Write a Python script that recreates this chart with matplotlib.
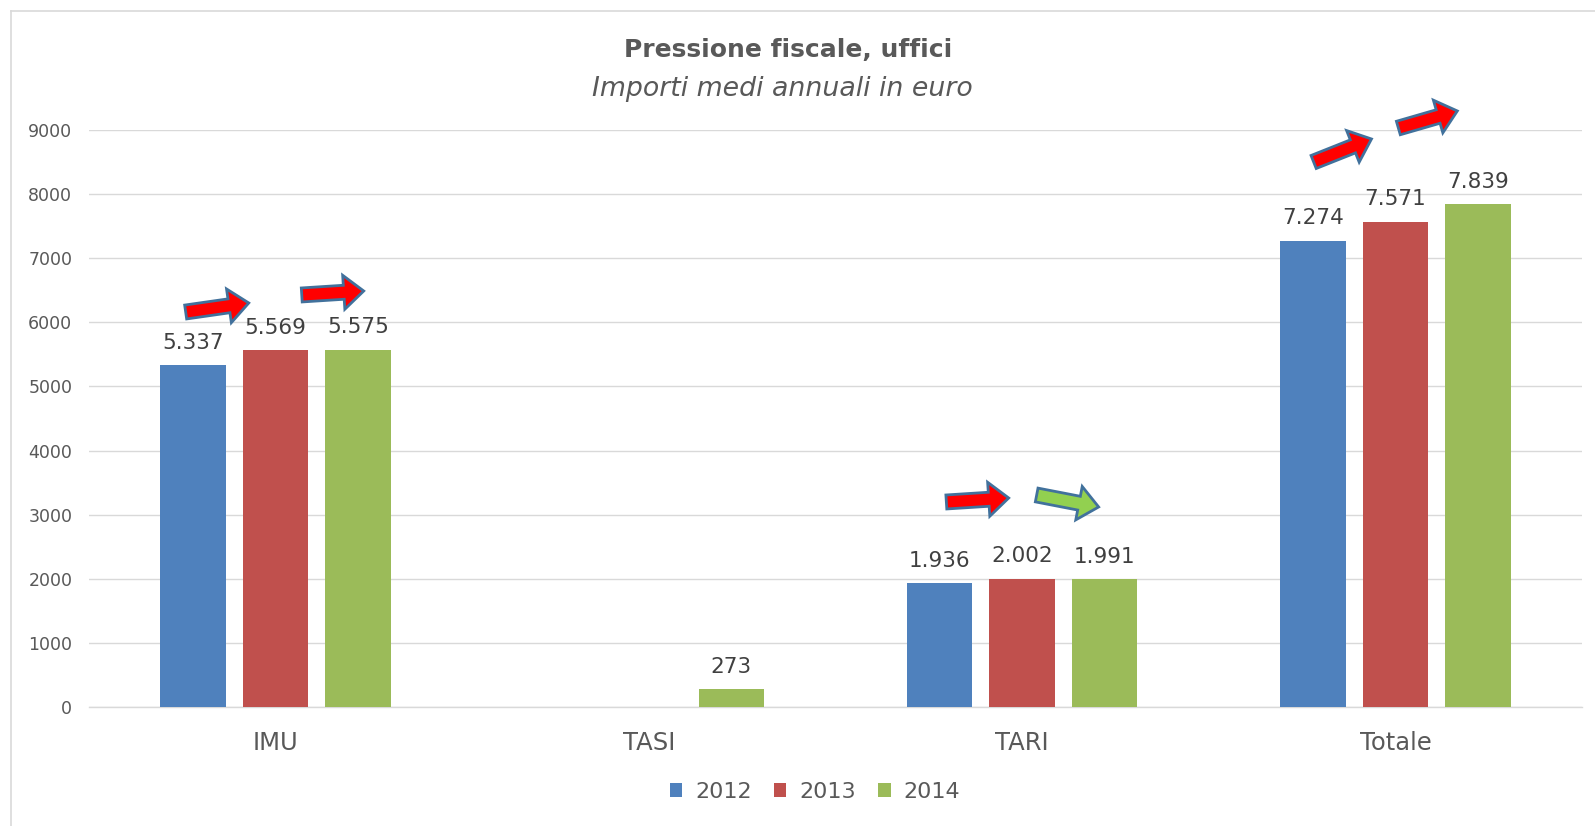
import numpy as np
import matplotlib
matplotlib.use("Agg")
import matplotlib.pyplot as plt
from matplotlib.patches import FancyArrow, Patch
from matplotlib.lines import Line2D
from matplotlib.transforms import IdentityTransform

plt.rcParams['font.family'] = ['DejaVu Sans']

# ---- data ----
categories = ["IMU", "TASI", "TARI", "Totale"]
years = ["2012", "2013", "2014"]
v2012 = [5337, np.nan, 1936, 7274]
v2013 = [5569, np.nan, 2002, 7571]
v2014 = [5575, 273, 1991, 7839]
yticks = [0, 1000, 2000, 3000, 4000, 5000, 6000, 7000, 8000, 9000]
colors = ["#4f81bd", "#c0504d", "#9bbb59"]

# decorative block arrows (tail_x, tail_y, tip_x, tip_y) in data coords, fill colour
arrows = [
    (-0.241, 6161, -0.072, 6302, "#ff0000"),
    (0.070, 6427, 0.236, 6489, "#ff0000"),
    (1.797, 3198, 1.964, 3260, "#ff0000"),
    (2.039, 3307, 2.205, 3120, "#92d050"),
    (2.781, 8501, 2.936, 8860, "#ff0000"),
    (3.008, 9031, 3.166, 9297, "#ff0000"),
]

W, H = 1595, 826
fig = plt.figure(figsize=(W / 100, H / 100), dpi=100)
ax = fig.add_axes([89 / W, (H - 707) / H, (1582 - 89) / W, (707 - 130) / H])

series = [v2012, v2013, v2014]
x = np.arange(len(categories))
offsets = [-0.221, 0.0, 0.221]
bw = 0.176
for vals, off, col, yr in zip(series, offsets, colors, years):
    ax.bar(x + off, vals, width=bw, color=col, label=yr, zorder=3)
    for xi, v in zip(x, vals):
        if np.isnan(v):
            continue
        lbl = f"{v/1000:.3f}" if v >= 1000 else f"{int(v)}"
        ax.annotate(lbl, (xi + off, v), xytext=(0, 16), textcoords="offset points",
                    ha="center", va="center", fontsize=15.5, color="#404040", zorder=4)

ax.set_xlim(-0.5, len(categories) - 0.5)
ax.set_ylim(0, 9000)
ax.set_yticks(yticks)
ax.set_yticklabels([str(t) for t in yticks])
ax.set_xticks(x)
ax.set_xticklabels(categories)
ax.tick_params(axis="y", length=0, pad=12, labelsize=12.5, labelcolor="#595959")
ax.tick_params(axis="x", length=0, pad=17, labelsize=17.5, labelcolor="#595959")
ax.grid(axis="y", color="#d9d9d9", linewidth=1, zorder=0)
for s in ["top", "right", "left"]:
    ax.spines[s].set_visible(False)
ax.spines["bottom"].set_color("#d9d9d9")
ax.spines["bottom"].set_linewidth(1)

# block arrows drawn in pixel space anchored to data coordinates
for tx, ty, hx, hy, col in arrows:
    (px0, py0), (px1, py1) = ax.transData.transform([(tx, ty), (hx, hy)])
    arr = FancyArrow(px0, py0, px1 - px0, py1 - py0, width=14, head_width=34,
                     head_length=20, length_includes_head=True,
                     facecolor=col, edgecolor="#41719c", linewidth=2,
                     transform=IdentityTransform(), zorder=5)
    fig.add_artist(arr)

# titles
fig.text(788 / W, 1 - 50 / H, "Pressione fiscale, uffici", ha="center", va="center",
         fontsize=18, fontweight="bold", color="#595959")
fig.text(782 / W, 1 - 89.5 / H, "Importi medi annuali in euro", ha="center", va="center",
         fontsize=19.3, fontstyle="italic", color="#595959")

# legend
handles = [Patch(facecolor=c, edgecolor="none") for c in colors]
leg = fig.legend(handles, years, loc="center", bbox_to_anchor=(815 / W, 1 - 792 / H),
                 ncol=3, frameon=False, fontsize=16, handlelength=0.55, handleheight=0.55,
                 handletextpad=0.6, columnspacing=1.0)
for t in leg.get_texts():
    t.set_color("#595959")

# chart border
fig.add_artist(Line2D([10.5 / W, 10.5 / W], [0, 1 - 10.5 / H], color="#d9d9d9", linewidth=1.2))
fig.add_artist(Line2D([10.5 / W, 1], [1 - 10.5 / H, 1 - 10.5 / H], color="#d9d9d9", linewidth=1.2))

fig.savefig("out.png", dpi=100)
